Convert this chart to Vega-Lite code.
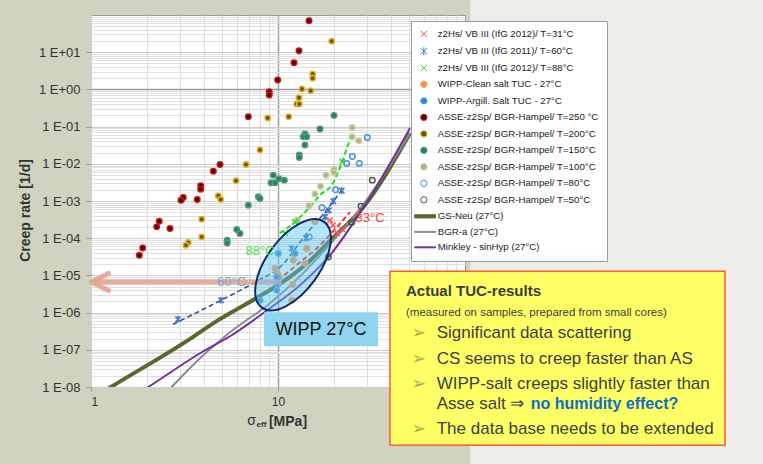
{
  "$schema": "https://vega.github.io/schema/vega-lite/v6.json",
  "width": 374,
  "height": 372,
  "autosize": {"type": "none"},
  "padding": {"left": 91, "top": 15, "right": 298, "bottom": 77},
  "background": "#cfd3bf",
  "config": {"view": {"fill": "white", "stroke": "#9a9a9a", "strokeWidth": 1}, "font": "Liberation Sans"},
  "resolve": {"axis": {"x": "independent", "y": "independent"}},
  "datasets": {
    "one": [{}],
    "gsneu": [{"x":1.1,"y":6.25e-9},{"x":1.279,"y":1e-8},{"x":3.262,"y":1.738e-7},{"x":4.72,"y":6.01e-7},{"x":7.72,"y":2.51e-6},{"x":10.25,"y":5.97e-6},{"x":14.83,"y":2.49e-5},{"x":18.97,"y":8.6e-5},{"x":28.48,"y":6.68e-4},{"x":50.8,"y":0.0659}],
    "bgra": [{"x":2.6,"y":8.2e-9},{"x":2.7,"y":1e-8},{"x":3.827,"y":5.92e-8},{"x":5.537,"y":2.96e-7},{"x":9.06,"y":1.79e-6},{"x":13.11,"y":9.5e-6},{"x":18.97,"y":6.9e-5},{"x":29.19,"y":0.000931},{"x":50.8,"y":0.0669}],
    "minkley": [{"x":1.9,"y":8.15e-9},{"x":2.025,"y":1e-8},{"x":3.827,"y":8.07e-8},{"x":5.537,"y":2.31e-7},{"x":9.06,"y":1.31e-6},{"x":13.11,"y":5.45e-6},{"x":18.97,"y":3.49e-5},{"x":29.19,"y":0.000773},{"x":50.8,"y":0.0912}],
    "fit31": [{"x":10.0,"y":7.42e-6},{"x":13.11,"y":2.26e-5},{"x":16.77,"y":6.49e-5},{"x":20.17,"y":0.0001748},{"x":24.27,"y":0.000501}],
    "fit60": [{"x":2.745,"y":4.86e-7},{"x":4.958,"y":2.15e-6},{"x":7.72,"y":6.98e-6},{"x":10.25,"y":1.66e-5},{"x":14.29,"y":0.0001365},{"x":17.84,"y":0.000501},{"x":22.27,"y":0.002217}],
    "fit88": [{"x":10.25,"y":0.0001365},{"x":12.33,"y":0.000275},{"x":14.29,"y":0.000567},{"x":16.77,"y":0.001437},{"x":19.68,"y":0.00302},{"x":21.99,"y":0.0111},{"x":23.67,"y":0.0318},{"x":25.18,"y":0.0669}],
    "points": [
      {"s":"ASSE-z2Sp/ BGR-Hampel/ T=250 °C","x":14.65,"y":70.2},
      {"s":"ASSE-z2Sp/ BGR-Hampel/ T=250 °C","x":12.95,"y":10.95},
      {"s":"ASSE-z2Sp/ BGR-Hampel/ T=250 °C","x":12.18,"y":5.21},
      {"s":"ASSE-z2Sp/ BGR-Hampel/ T=250 °C","x":9.96,"y":1.78},
      {"s":"ASSE-z2Sp/ BGR-Hampel/ T=250 °C","x":8.98,"y":0.864},
      {"s":"ASSE-z2Sp/ BGR-Hampel/ T=250 °C","x":8.98,"y":0.704},
      {"s":"ASSE-z2Sp/ BGR-Hampel/ T=250 °C","x":6.94,"y":0.1836},
      {"s":"ASSE-z2Sp/ BGR-Hampel/ T=250 °C","x":4.9,"y":0.00962},
      {"s":"ASSE-z2Sp/ BGR-Hampel/ T=250 °C","x":4.51,"y":0.00635},
      {"s":"ASSE-z2Sp/ BGR-Hampel/ T=250 °C","x":3.86,"y":0.002557},
      {"s":"ASSE-z2Sp/ BGR-Hampel/ T=250 °C","x":3.86,"y":0.002084},
      {"s":"ASSE-z2Sp/ BGR-Hampel/ T=250 °C","x":3.116,"y":0.001246},
      {"s":"ASSE-z2Sp/ BGR-Hampel/ T=250 °C","x":3.029,"y":0.001054},
      {"s":"ASSE-z2Sp/ BGR-Hampel/ T=250 °C","x":3.7,"y":0.0011},
      {"s":"ASSE-z2Sp/ BGR-Hampel/ T=250 °C","x":2.318,"y":0.000287},
      {"s":"ASSE-z2Sp/ BGR-Hampel/ T=250 °C","x":2.245,"y":0.0002016},
      {"s":"ASSE-z2Sp/ BGR-Hampel/ T=250 °C","x":2.645,"y":0.0001826},
      {"s":"ASSE-z2Sp/ BGR-Hampel/ T=250 °C","x":1.89,"y":5.49e-5},
      {"s":"ASSE-z2Sp/ BGR-Hampel/ T=250 °C","x":1.813,"y":3.49e-5},
      {"s":"ASSE-z2Sp/ BGR-Hampel/ T=200°C","x":19.37,"y":19.61},
      {"s":"ASSE-z2Sp/ BGR-Hampel/ T=200°C","x":15.33,"y":2.586},
      {"s":"ASSE-z2Sp/ BGR-Hampel/ T=200°C","x":15.33,"y":1.982},
      {"s":"ASSE-z2Sp/ BGR-Hampel/ T=200°C","x":13.44,"y":1.021},
      {"s":"ASSE-z2Sp/ BGR-Hampel/ T=200°C","x":14.96,"y":0.919},
      {"s":"ASSE-z2Sp/ BGR-Hampel/ T=200°C","x":12.95,"y":0.596},
      {"s":"ASSE-z2Sp/ BGR-Hampel/ T=200°C","x":12.59,"y":0.4034},
      {"s":"ASSE-z2Sp/ BGR-Hampel/ T=200°C","x":13.0,"y":0.4034},
      {"s":"ASSE-z2Sp/ BGR-Hampel/ T=200°C","x":8.81,"y":0.1694},
      {"s":"ASSE-z2Sp/ BGR-Hampel/ T=200°C","x":11.41,"y":0.1836},
      {"s":"ASSE-z2Sp/ BGR-Hampel/ T=200°C","x":8.01,"y":0.02333},
      {"s":"ASSE-z2Sp/ BGR-Hampel/ T=200°C","x":6.745,"y":0.00962},
      {"s":"ASSE-z2Sp/ BGR-Hampel/ T=200°C","x":5.963,"y":0.003483},
      {"s":"ASSE-z2Sp/ BGR-Hampel/ T=200°C","x":4.795,"y":0.001376},
      {"s":"ASSE-z2Sp/ BGR-Hampel/ T=200°C","x":4.939,"y":0.0011},
      {"s":"ASSE-z2Sp/ BGR-Hampel/ T=200°C","x":3.908,"y":0.000325},
      {"s":"ASSE-z2Sp/ BGR-Hampel/ T=200°C","x":3.908,"y":0.0001085},
      {"s":"ASSE-z2Sp/ BGR-Hampel/ T=200°C","x":3.314,"y":7.67e-5},
      {"s":"ASSE-z2Sp/ BGR-Hampel/ T=200°C","x":3.221,"y":6.49e-5},
      {"s":"ASSE-z2Sp/ BGR-Hampel/ T=150°C","x":19.93,"y":0.2002},
      {"s":"ASSE-z2Sp/ BGR-Hampel/ T=150°C","x":16.77,"y":0.0857},
      {"s":"ASSE-z2Sp/ BGR-Hampel/ T=150°C","x":13.94,"y":0.0629},
      {"s":"ASSE-z2Sp/ BGR-Hampel/ T=150°C","x":13.65,"y":0.0532},
      {"s":"ASSE-z2Sp/ BGR-Hampel/ T=150°C","x":14.24,"y":0.0532},
      {"s":"ASSE-z2Sp/ BGR-Hampel/ T=150°C","x":13.94,"y":0.0318},
      {"s":"ASSE-z2Sp/ BGR-Hampel/ T=150°C","x":13.0,"y":0.01713},
      {"s":"ASSE-z2Sp/ BGR-Hampel/ T=150°C","x":13.0,"y":0.01467},
      {"s":"ASSE-z2Sp/ BGR-Hampel/ T=150°C","x":9.44,"y":0.004959},
      {"s":"ASSE-z2Sp/ BGR-Hampel/ T=150°C","x":9.18,"y":0.003116},
      {"s":"ASSE-z2Sp/ BGR-Hampel/ T=150°C","x":9.64,"y":0.003116},
      {"s":"ASSE-z2Sp/ BGR-Hampel/ T=150°C","x":10.12,"y":0.003993},
      {"s":"ASSE-z2Sp/ BGR-Hampel/ T=150°C","x":10.81,"y":0.003638},
      {"s":"ASSE-z2Sp/ BGR-Hampel/ T=150°C","x":7.85,"y":0.001293},
      {"s":"ASSE-z2Sp/ BGR-Hampel/ T=150°C","x":8.01,"y":0.001171},
      {"s":"ASSE-z2Sp/ BGR-Hampel/ T=150°C","x":6.94,"y":0.000773},
      {"s":"ASSE-z2Sp/ BGR-Hampel/ T=150°C","x":6.014,"y":0.0001717},
      {"s":"ASSE-z2Sp/ BGR-Hampel/ T=150°C","x":6.264,"y":0.000134},
      {"s":"ASSE-z2Sp/ BGR-Hampel/ T=150°C","x":5.35,"y":8.85e-5},
      {"s":"ASSE-z2Sp/ BGR-Hampel/ T=150°C","x":5.35,"y":7.48e-5},
      {"s":"ASSE-z2Sp/ BGR-Hampel/ T=100°C","x":24.96,"y":0.0952},
      {"s":"ASSE-z2Sp/ BGR-Hampel/ T=100°C","x":24.87,"y":0.0532},
      {"s":"ASSE-z2Sp/ BGR-Hampel/ T=100°C","x":27.02,"y":0.0415},
      {"s":"ASSE-z2Sp/ BGR-Hampel/ T=100°C","x":19.93,"y":0.007061},
      {"s":"ASSE-z2Sp/ BGR-Hampel/ T=100°C","x":19.93,"y":0.005862},
      {"s":"ASSE-z2Sp/ BGR-Hampel/ T=100°C","x":18.06,"y":0.004959},
      {"s":"ASSE-z2Sp/ BGR-Hampel/ T=100°C","x":16.88,"y":0.002509},
      {"s":"ASSE-z2Sp/ BGR-Hampel/ T=100°C","x":15.77,"y":0.001529},
      {"s":"ASSE-z2Sp/ BGR-Hampel/ T=100°C","x":14.65,"y":0.00075},
      {"s":"ASSE-z2Sp/ BGR-Hampel/ T=100°C","x":12.69,"y":0.000305},
      {"s":"ASSE-z2Sp/ BGR-Hampel/ T=80°C","x":30.02,"y":0.05126},
      {"s":"ASSE-z2Sp/ BGR-Hampel/ T=80°C","x":24.96,"y":0.0158},
      {"s":"ASSE-z2Sp/ BGR-Hampel/ T=80°C","x":27.21,"y":0.01024},
      {"s":"ASSE-z2Sp/ BGR-Hampel/ T=80°C","x":23.3,"y":0.01024},
      {"s":"ASSE-z2Sp/ BGR-Hampel/ T=80°C","x":20.3,"y":0.00202},
      {"s":"ASSE-z2Sp/ BGR-Hampel/ T=80°C","x":17.19,"y":0.000662},
      {"s":"ASSE-z2Sp/ BGR-Hampel/ T=80°C","x":14.7,"y":0.0001085},
      {"s":"ASSE-z2Sp/ BGR-Hampel/ T=50°C","x":31.93,"y":0.003638},
      {"s":"ASSE-z2Sp/ BGR-Hampel/ T=50°C","x":27.79,"y":0.000727},
      {"s":"ASSE-z2Sp/ BGR-Hampel/ T=50°C","x":24.78,"y":0.0002648},
      {"s":"ASSE-z2Sp/ BGR-Hampel/ T=50°C","x":18.58,"y":3.144e-5},
      {"s":"z2Hs/ VB III (IfG 2012)/ T=31°C","x":19.68,"y":0.000224},
      {"s":"z2Hs/ VB III (IfG 2012)/ T=31°C","x":20.68,"y":0.0001365},
      {"s":"z2Hs/ VB III (IfG 2012)/ T=31°C","x":22.07,"y":0.0001748},
      {"s":"z2Hs/ VB III (IfG 2012)/ T=31°C","x":18.97,"y":0.0003053},
      {"s":"z2Hs/ VB III (IfG 2011)/ T=60°C","x":2.919,"y":6.63e-7},
      {"s":"z2Hs/ VB III (IfG 2011)/ T=60°C","x":4.958,"y":2.15e-6},
      {"s":"z2Hs/ VB III (IfG 2011)/ T=60°C","x":11.84,"y":5.29e-5},
      {"s":"z2Hs/ VB III (IfG 2011)/ T=60°C","x":14.11,"y":0.0001001},
      {"s":"z2Hs/ VB III (IfG 2011)/ T=60°C","x":17.84,"y":0.0003747},
      {"s":"z2Hs/ VB III (IfG 2011)/ T=60°C","x":18.74,"y":0.000567},
      {"s":"z2Hs/ VB III (IfG 2011)/ T=60°C","x":19.76,"y":0.000991},
      {"s":"z2Hs/ VB III (IfG 2011)/ T=60°C","x":21.91,"y":0.0019},
      {"s":"z2Hs/ VB III (IfG 2012)/ T=88°C","x":10.9,"y":0.0001365},
      {"s":"z2Hs/ VB III (IfG 2012)/ T=88°C","x":22.07,"y":0.0113},
      {"s":"z2Hs/ VB III (IfG 2012)/ T=88°C","x":12.33,"y":0.000275},
      {"s":"WIPP-Clean salt TUC - 27°C","x":15.77,"y":0.000275},
      {"s":"WIPP-Clean salt TUC - 27°C","x":13.94,"y":2.09e-5},
      {"s":"WIPP-Clean salt TUC - 27°C","x":12.07,"y":2.56e-5},
      {"s":"WIPP-Clean salt TUC - 27°C","x":9.64,"y":1.53e-5},
      {"s":"WIPP-Clean salt TUC - 27°C","x":9.84,"y":1.24e-5},
      {"s":"WIPP-Clean salt TUC - 27°C","x":10.04,"y":1.01e-5},
      {"s":"WIPP-Clean salt TUC - 27°C","x":11.98,"y":5.69e-6},
      {"s":"WIPP-Clean salt TUC - 27°C","x":11.84,"y":2.15e-6},
      {"s":"WIPP-Clean salt TUC - 27°C","x":14.24,"y":5.29e-5},
      {"s":"WIPP-Argill. Salt TUC - 27°C","x":10.04,"y":3.88e-5},
      {"s":"WIPP-Argill. Salt TUC - 27°C","x":12.33,"y":3.88e-5},
      {"s":"WIPP-Argill. Salt TUC - 27°C","x":9.84,"y":9.1e-6},
      {"s":"WIPP-Argill. Salt TUC - 27°C","x":9.96,"y":5.79e-6},
      {"s":"WIPP-Argill. Salt TUC - 27°C","x":9.84,"y":4.0e-6},
      {"s":"WIPP-Argill. Salt TUC - 27°C","x":8.01,"y":2.15e-6}
    ],
    "boxitems": [
      {"x":70.6,"y":2.836e-7,"t":"Significant data scattering"},
      {"x":70.6,"y":5.81e-8,"t":"CS seems to creep faster than AS"},
      {"x":70.6,"y":1.234e-8,"t":"WIPP-salt creeps slightly faster than"},
      {"x":70.6,"y":3.423e-9,"t":"Asse salt ⇒"},
      {"x":70.6,"y":7.6e-10,"t":"The data base needs to be extended"}
    ],
    "bullets": [
      {"x":51.88,"y":2.836e-7},
      {"x":51.88,"y":5.81e-8},
      {"x":51.88,"y":1.234e-8},
      {"x":51.88,"y":7.6e-10}
    ]
  },
  "layer": [
    {
      "data": {"name": "one"},
      "mark": {"type": "rect", "color": "#ecece8"},
      "encoding": {
        "x": {"datum": 106.5, "type": "quantitative", "scale": {"type": "log", "domain": [1, 100], "nice": false}, "axis": null},
        "x2": {"datum": 20000},
        "y": {"datum": 1000, "type": "quantitative", "scale": {"type": "log", "domain": [1e-8, 100], "nice": false}, "axis": null},
        "y2": {"datum": 1e-12}
      }
    },
    {
      "data": {"name": "gsneu"},
      "mark": {"type": "line", "color": "#58692b", "strokeWidth": 4, "clip": true, "interpolate": "monotone"},
      "encoding": {
        "x": {"field": "x", "type": "quantitative", "axis": {"orient": "bottom", "values": [2,3,4,5,6,7,8,9,20,30,40,50,60,70,80,90], "grid": true, "gridColor": "#dcdcdc", "labels": false, "ticks": false, "domain": false, "title": null}},
        "y": {"field": "y", "type": "quantitative", "axis": {"orient": "left", "values": [2e-8,3e-8,4e-8,5e-8,6e-8,7e-8,8e-8,9e-8,2e-7,3e-7,4e-7,5e-7,6e-7,7e-7,8e-7,9e-7,2e-6,3e-6,4e-6,5e-6,6e-6,7e-6,8e-6,9e-6,2e-5,3e-5,4e-5,5e-5,6e-5,7e-5,8e-5,9e-5,0.0002,0.0003,0.0004,0.0005,0.0006,0.0007,0.0008,0.0009,0.002,0.003,0.004,0.005,0.006,0.007,0.008,0.009,0.02,0.03,0.04,0.05,0.06,0.07,0.08,0.09,0.2,0.3,0.4,0.5,0.6,0.7,0.8,0.9,2,3,4,5,6,7,8,9,20,30,40,50,60,70,80,90], "grid": true, "gridColor": "#e0e0e0", "labels": false, "ticks": false, "domain": false, "title": null}}
      }
    },
    {
      "data": {"name": "bgra"},
      "mark": {"type": "line", "color": "#8c8c8c", "strokeWidth": 2, "clip": true, "interpolate": "monotone"},
      "encoding": {
        "x": {"field": "x", "type": "quantitative", "axis": {"orient": "bottom", "values": [1, 10], "format": "d", "grid": true, "gridColor": {"condition": {"test": "datum.value == 10", "value": "#9c9c9c"}, "value": "#d0d0d0"}, "gridWidth": {"condition": {"test": "datum.value == 10", "value": 1.5}, "value": 1}, "domain": false, "ticks": true, "tickSize": 4, "tickColor": "#999999", "labelFont": "Liberation Sans", "labelFontSize": 12, "labelColor": "#333333", "labelPadding": 5, "title": null}},
        "y": {"field": "y", "type": "quantitative", "axis": {"orient": "left", "values": [1e-8,1e-7,1e-6,1e-5,0.0001,0.001,0.01,0.1,1,10], "labelExpr": "'1 E' + (round(log(datum.value)/LN10) < 0 ? '-' : '+') + (abs(round(log(datum.value)/LN10)) < 10 ? '0' : '') + abs(round(log(datum.value)/LN10))", "grid": true, "gridColor": {"condition": {"test": "datum.value == 1", "value": "#9c9c9c"}, "value": "#cccccc"}, "gridWidth": {"condition": {"test": "datum.value == 1", "value": 1.5}, "value": 1}, "domain": false, "ticks": true, "tickSize": 5, "tickColor": "#999999", "labelFont": "Liberation Sans", "labelFontSize": 13, "labelColor": "#333333", "labelPadding": 6, "title": "Creep rate [1/d]", "titleFont": "Liberation Sans", "titleFontSize": 14, "titleFontWeight": "bold", "titleColor": "#333333", "titleX": -66, "titleY": 195, "titleAngle": 270, "titleAlign": "center", "titleBaseline": "middle"}}
      }
    },
    {
      "data": {"name": "minkley"},
      "mark": {"type": "line", "color": "#7030a0", "strokeWidth": 2, "clip": true, "interpolate": "monotone"},
      "encoding": {
        "x": {"field": "x", "type": "quantitative", "axis": null},
        "y": {"field": "y", "type": "quantitative", "axis": null}
      }
    },
    {
      "data": {"name": "fit60"},
      "mark": {"type": "line", "color": "#2f5597", "strokeWidth": 1.6, "strokeDash": [5, 3], "clip": true, "interpolate": "monotone"},
      "encoding": {
        "x": {"field": "x", "type": "quantitative", "axis": null},
        "y": {"field": "y", "type": "quantitative", "axis": null}
      }
    },
    {
      "data": {"name": "fit88"},
      "mark": {"type": "line", "color": "#22dd22", "strokeWidth": 2, "strokeDash": [5, 3], "clip": true, "interpolate": "monotone"},
      "encoding": {
        "x": {"field": "x", "type": "quantitative", "axis": null},
        "y": {"field": "y", "type": "quantitative", "axis": null}
      }
    },
    {
      "data": {"name": "fit31"},
      "mark": {"type": "line", "color": "#ff3030", "strokeWidth": 2, "strokeDash": [5, 3], "clip": true, "interpolate": "monotone"},
      "encoding": {
        "x": {"field": "x", "type": "quantitative", "axis": null},
        "y": {"field": "y", "type": "quantitative", "axis": null}
      }
    },
    {
      "data": {"name": "points"},
      "mark": {"type": "point", "filled": true, "size": 30, "strokeWidth": 1.5, "opacity": 1},
      "encoding": {
        "x": {"field": "x", "type": "quantitative", "axis": null},
        "y": {"field": "y", "type": "quantitative", "axis": null},
        "fill": {"field": "s", "type": "nominal", "legend": null, "scale": {
          "domain": ["z2Hs/ VB III (IfG 2012)/ T=31°C","z2Hs/ VB III (IfG 2011)/ T=60°C","z2Hs/ VB III (IfG 2012)/ T=88°C","WIPP-Clean salt TUC - 27°C","WIPP-Argill. Salt TUC - 27°C","ASSE-z2Sp/ BGR-Hampel/ T=250 °C","ASSE-z2Sp/ BGR-Hampel/ T=200°C","ASSE-z2Sp/ BGR-Hampel/ T=150°C","ASSE-z2Sp/ BGR-Hampel/ T=100°C","ASSE-z2Sp/ BGR-Hampel/ T=80°C","ASSE-z2Sp/ BGR-Hampel/ T=50°C","GS-Neu (27°C)","BGR-a (27°C)","Minkley - sinHyp (27°C)"],
          "range": ["transparent","transparent","transparent","#f79646","#2e86d1","#4d0505","#6b5514","#2f7d5c","#a9b77e","transparent","transparent","#58692b","#8c8c8c","#7030a0"]}},
        "stroke": {"field": "s", "type": "nominal", "legend": null, "scale": {
          "domain": ["z2Hs/ VB III (IfG 2012)/ T=31°C","z2Hs/ VB III (IfG 2011)/ T=60°C","z2Hs/ VB III (IfG 2012)/ T=88°C","WIPP-Clean salt TUC - 27°C","WIPP-Argill. Salt TUC - 27°C","ASSE-z2Sp/ BGR-Hampel/ T=250 °C","ASSE-z2Sp/ BGR-Hampel/ T=200°C","ASSE-z2Sp/ BGR-Hampel/ T=150°C","ASSE-z2Sp/ BGR-Hampel/ T=100°C","ASSE-z2Sp/ BGR-Hampel/ T=80°C","ASSE-z2Sp/ BGR-Hampel/ T=50°C","GS-Neu (27°C)","BGR-a (27°C)","Minkley - sinHyp (27°C)"],
          "range": ["#ff4d4d","#4a78b8","#33d633","#f0a060","#5aa6e0","#c41818","#e2b52c","#4f9c7c","#c3cf9f","#4a90d9","#505050","#58692b","#8c8c8c","#7030a0"]}},
        "shape": {"field": "s", "type": "nominal", "scale": {
          "domain": ["z2Hs/ VB III (IfG 2012)/ T=31°C","z2Hs/ VB III (IfG 2011)/ T=60°C","z2Hs/ VB III (IfG 2012)/ T=88°C","WIPP-Clean salt TUC - 27°C","WIPP-Argill. Salt TUC - 27°C","ASSE-z2Sp/ BGR-Hampel/ T=250 °C","ASSE-z2Sp/ BGR-Hampel/ T=200°C","ASSE-z2Sp/ BGR-Hampel/ T=150°C","ASSE-z2Sp/ BGR-Hampel/ T=100°C","ASSE-z2Sp/ BGR-Hampel/ T=80°C","ASSE-z2Sp/ BGR-Hampel/ T=50°C","GS-Neu (27°C)","BGR-a (27°C)","Minkley - sinHyp (27°C)"],
          "range": ["M-1,-1L1,1M-1,1L1,-1","M-1,-1L1,1M-1,1L1,-1M0,-1.3L0,1.3","M-1,-1L1,1M-1,1L1,-1","circle","circle","circle","circle","circle","circle","circle","circle","M-2.9,-0.5L3.7,-0.5L3.7,0.5L-2.9,0.5Z","M-2.9,-0.15L3.7,-0.15L3.7,0.15L-2.9,0.15Z","M-2.9,-0.15L3.7,-0.15L3.7,0.15L-2.9,0.15Z"]},
          "legend": {
            "title": null, "orient": "none", "legendX": 320, "legendY": 6, "direction": "vertical",
            "fillColor": "white", "strokeColor": "#9a9a9a", "padding": 8,
            "symbolSize": 40, "symbolStrokeWidth": 1, "rowPadding": 4.5, "labelOffset": 9,
            "labelFont": "Liberation Sans", "labelFontSize": 9.7, "labelColor": "#222222", "labelLimit": 300,
            "encode": {"symbols": {
              "fill": {"value": {"expr": "scale('fill', datum.value)"}},
              "stroke": {"value": {"expr": "scale('stroke', datum.value)"}},
              "opacity": {"value": 1}
            }}
          }}
      }
    },
    {
      "data": {"name": "one"},
      "mark": {"type": "rule", "color": "#e3a08f", "strokeWidth": 5, "opacity": 0.85},
      "encoding": {
        "x": {"datum": 1.03, "type": "quantitative", "axis": null},
        "x2": {"datum": 10.5},
        "y": {"datum": 6.68e-6, "type": "quantitative", "axis": null}
      }
    },
    {
      "data": {"name": "one"},
      "mark": {"type": "point", "shape": "M1,-1L-1,0L1,1", "size": 289, "filled": false, "stroke": "#e3a08f", "strokeWidth": 5, "opacity": 0.85, "strokeCap": "round", "strokeJoin": "round"},
      "encoding": {
        "x": {"datum": 1.117, "type": "quantitative", "axis": null},
        "y": {"datum": 6.68e-6, "type": "quantitative", "axis": null}
      }
    },
    {
      "data": {"name": "one"},
      "mark": {"type": "point", "shape": "M0.588,-0.809A1,0.5,-54,1,0,-0.588,0.809A1,0.5,-54,1,0,0.588,-0.809Z", "size": 11236, "filled": true, "fill": "#5cc6ef", "fillOpacity": 0.45, "stroke": "#0f2b6e", "strokeWidth": 2, "opacity": 1},
      "encoding": {
        "x": {"datum": 12.03, "type": "quantitative", "axis": null},
        "y": {"datum": 1.94e-5, "type": "quantitative", "axis": null}
      }
    },
    {
      "data": {"name": "one"},
      "mark": {"type": "text", "text": "33°C", "color": "#ff3b3b", "fontSize": 13, "font": "Liberation Sans", "align": "center", "baseline": "middle"},
      "encoding": {
        "x": {"datum": 31.05, "type": "quantitative", "axis": null},
        "y": {"datum": 0.000356, "type": "quantitative", "axis": null}
      }
    },
    {
      "data": {"name": "one"},
      "mark": {"type": "text", "text": "88°C", "color": "#3ee23e", "fontSize": 13, "font": "Liberation Sans", "align": "center", "baseline": "middle"},
      "encoding": {
        "x": {"datum": 8.01, "type": "quantitative", "axis": null},
        "y": {"datum": 4.48e-5, "type": "quantitative", "axis": null}
      }
    },
    {
      "data": {"name": "one"},
      "mark": {"type": "text", "text": "60°C", "color": "#7aa6cf", "fontSize": 13, "font": "Liberation Sans", "align": "center", "baseline": "middle"},
      "encoding": {
        "x": {"datum": 5.64, "type": "quantitative", "axis": null},
        "y": {"datum": 6.8e-6, "type": "quantitative", "axis": null}
      }
    },
    {
      "data": {"name": "one"},
      "mark": {"type": "rect", "color": "#8fd5f0"},
      "encoding": {
        "x": {"datum": 8.42, "type": "quantitative", "axis": null},
        "x2": {"datum": 34.26},
        "y": {"datum": 1.023e-6, "type": "quantitative", "axis": null},
        "y2": {"datum": 1.245e-7}
      }
    },
    {
      "data": {"name": "one"},
      "mark": {"type": "text", "text": "WIPP 27°C", "color": "#111111", "fontSize": 18, "font": "Liberation Sans", "align": "center", "baseline": "middle"},
      "encoding": {
        "x": {"datum": 16.98, "type": "quantitative", "axis": null},
        "y": {"datum": 3.35e-7, "type": "quantitative", "axis": null}
      }
    },
    {
      "data": {"name": "one"},
      "mark": {"type": "rect", "fill": "#ffff66", "stroke": "#ff5a36", "strokeWidth": 1.5},
      "encoding": {
        "x": {"datum": 39.7, "type": "quantitative", "axis": null},
        "x2": {"datum": 2457},
        "y": {"datum": 1.297e-5, "type": "quantitative", "axis": null},
        "y2": {"datum": 2.7e-10}
      }
    },
    {
      "data": {"name": "one"},
      "mark": {"type": "text", "text": "Actual TUC-results", "color": "#3c3c3c", "fontSize": 15, "fontWeight": "bold", "font": "Liberation Sans", "align": "left", "baseline": "middle"},
      "encoding": {
        "x": {"datum": 48.36, "type": "quantitative", "axis": null},
        "y": {"datum": 3.825e-6, "type": "quantitative", "axis": null}
      }
    },
    {
      "data": {"name": "one"},
      "mark": {"type": "text", "text": "(measured on samples, prepared from small cores)", "color": "#3c3c3c", "fontSize": 11.5, "font": "Liberation Sans", "align": "left", "baseline": "middle"},
      "encoding": {
        "x": {"datum": 48.36, "type": "quantitative", "axis": null},
        "y": {"datum": 1.0037e-6, "type": "quantitative", "axis": null}
      }
    },
    {
      "data": {"name": "bullets"},
      "mark": {"type": "text", "text": "➢", "color": "#c49a55", "fontSize": 17, "font": "DejaVu Sans", "align": "left", "baseline": "middle"},
      "encoding": {
        "x": {"field": "x", "type": "quantitative", "axis": null},
        "y": {"field": "y", "type": "quantitative", "axis": null}
      }
    },
    {
      "data": {"name": "boxitems"},
      "mark": {"type": "text", "color": "#404040", "fontSize": 17, "font": "Liberation Sans", "align": "left", "baseline": "middle"},
      "encoding": {
        "x": {"field": "x", "type": "quantitative", "axis": null},
        "y": {"field": "y", "type": "quantitative", "axis": null},
        "text": {"field": "t"}
      }
    },
    {
      "data": {"name": "one"},
      "mark": {"type": "text", "text": "no humidity effect?", "color": "#0b6fc6", "fontSize": 16, "fontWeight": "bold", "font": "Liberation Sans", "align": "left", "baseline": "middle"},
      "encoding": {
        "x": {"datum": 224.5, "type": "quantitative", "axis": null},
        "y": {"datum": 3.423e-9, "type": "quantitative", "axis": null}
      }
    },
    {
      "data": {"name": "one"},
      "mark": {"type": "text", "text": "σ", "color": "#333333", "fontSize": 14, "font": "Liberation Sans", "align": "center", "baseline": "middle"},
      "encoding": {
        "x": {"datum": 7.218, "type": "quantitative", "axis": null},
        "y": {"datum": 1.194e-9, "type": "quantitative", "axis": null}
      }
    },
    {
      "data": {"name": "one"},
      "mark": {"type": "text", "text": "eff", "color": "#333333", "fontSize": 8, "fontWeight": "bold", "font": "Liberation Sans", "align": "center", "baseline": "middle"},
      "encoding": {
        "x": {"datum": 8.16, "type": "quantitative", "axis": null},
        "y": {"datum": 9.33e-10, "type": "quantitative", "axis": null}
      }
    },
    {
      "data": {"name": "one"},
      "mark": {"type": "text", "text": "[MPa]", "color": "#333333", "fontSize": 14, "fontWeight": "bold", "font": "Liberation Sans", "align": "center", "baseline": "middle"},
      "encoding": {
        "x": {"datum": 11.31, "type": "quantitative", "axis": null},
        "y": {"datum": 1.12e-9, "type": "quantitative", "axis": null}
      }
    }
  ]
}
